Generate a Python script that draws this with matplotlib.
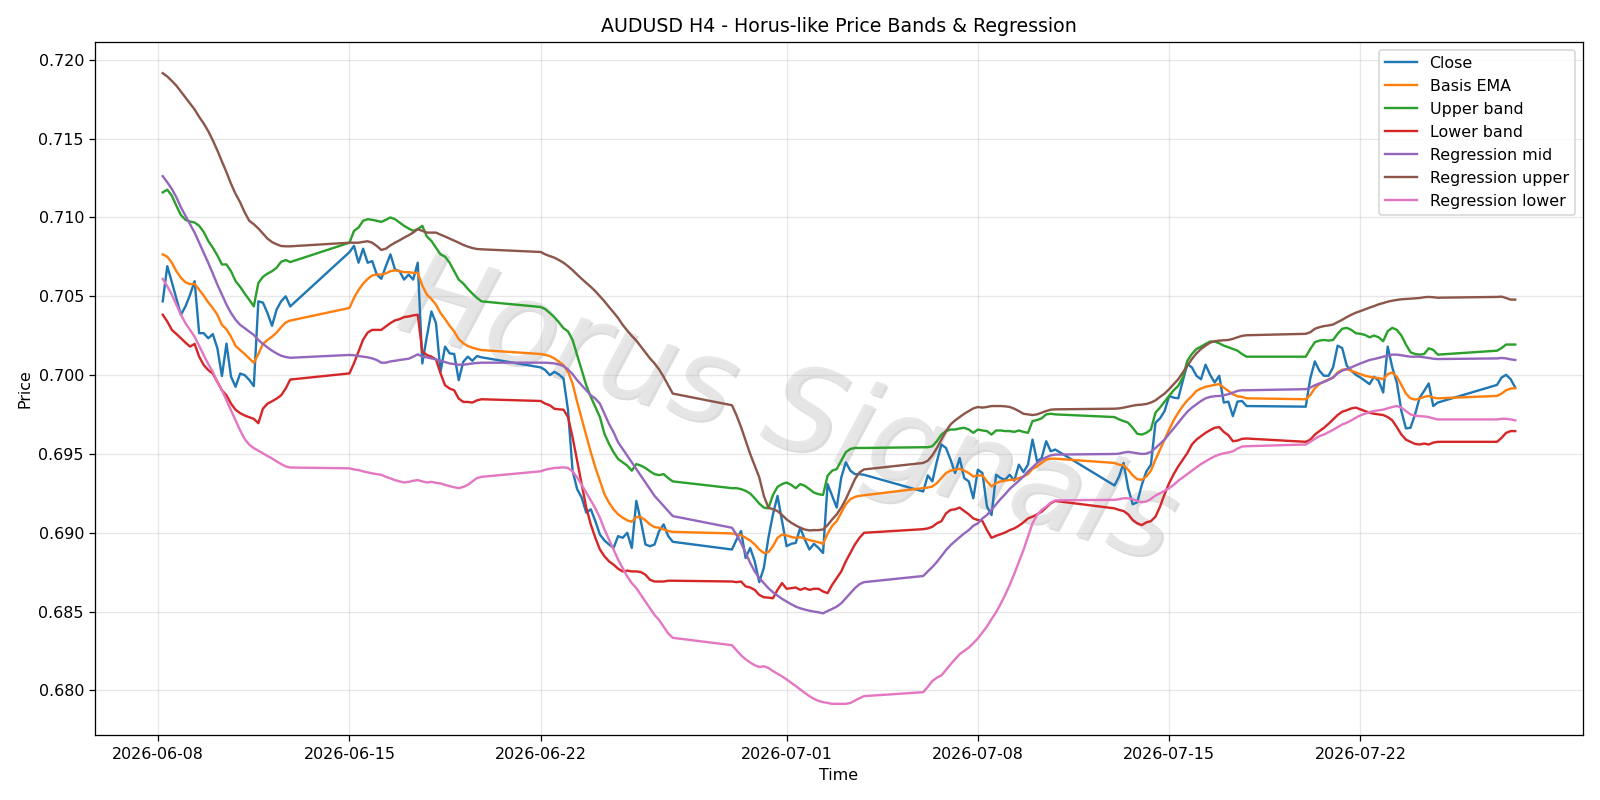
import numpy as np
import pandas as pd
import matplotlib
matplotlib.use("Agg")
import matplotlib.pyplot as plt
import matplotlib.patheffects as pe

# 4h bars, weekdays only (Mon 00:00 .. Fri 20:00)
bars = pd.date_range("2026-06-08 04:00", "2026-07-27 16:00", freq="4h")
bars = bars[bars.dayofweek < 5]

close = [
    0.70468, 0.70691, 0.70590, 0.70485, 0.70383, 0.70436, 0.70510, 0.70596, 0.70266, 0.70266,
    0.70234, 0.70260, 0.70170, 0.69994, 0.70200, 0.69990, 0.69926, 0.70010, 0.70000, 0.69970,
    0.69930, 0.70468, 0.70460, 0.70394, 0.70313, 0.70415, 0.70468, 0.70500, 0.70436,
    0.70780, 0.70820, 0.70713, 0.70802, 0.70713, 0.70723, 0.70638, 0.70611, 0.70691, 0.70766,
    0.70670, 0.70660, 0.70606, 0.70638, 0.70606, 0.70713, 0.70074, 0.70245, 0.70404, 0.70330,
    0.70021, 0.70181, 0.70138, 0.70134, 0.69968, 0.70085, 0.70117, 0.70091, 0.70121, 0.70113,
    0.70049, 0.70032, 0.70000, 0.70021, 0.70004, 0.69979, 0.69777, 0.69394, 0.69277, 0.69223,
    0.69128, 0.69149, 0.69074, 0.68989, 0.68951, 0.68926, 0.68904, 0.68979, 0.68968, 0.69000,
    0.68904, 0.69202, 0.69074, 0.68926, 0.68915, 0.68926, 0.69011, 0.69053, 0.68979, 0.68943,
    0.68894, 0.68957, 0.69011, 0.68840, 0.68904, 0.68819, 0.68687, 0.68777, 0.68968, 0.69117,
    0.69234, 0.69074, 0.68915, 0.68930, 0.68936, 0.69032, 0.68957, 0.68894, 0.68930, 0.68904,
    0.68872, 0.69309, 0.69234, 0.69160, 0.69351, 0.69447, 0.69394, 0.69372, 0.69372, 0.69368,
    0.69262, 0.69364, 0.69326, 0.69453, 0.69560, 0.69538, 0.69464, 0.69379, 0.69474, 0.69347,
    0.69326, 0.69219, 0.69400, 0.69379, 0.69166, 0.69113, 0.69368, 0.69347, 0.69336, 0.69368,
    0.69330, 0.69432, 0.69385, 0.69432, 0.69591, 0.69453, 0.69474, 0.69581, 0.69517, 0.69528,
    0.69300, 0.69357, 0.69443, 0.69283, 0.69181, 0.69194, 0.69304, 0.69389, 0.69432, 0.69698,
    0.69726, 0.69772, 0.69868, 0.69857, 0.69853, 0.69964, 0.70070, 0.70049, 0.69996, 0.69974,
    0.70066, 0.70002, 0.69953, 0.69996, 0.69826, 0.69832, 0.69740, 0.69832, 0.69836, 0.69804,
    0.69800, 0.69980, 0.70087, 0.70028, 0.69996, 0.69996, 0.70049, 0.70187, 0.70172, 0.70060,
    0.70028, 0.70002, 0.69985, 0.69964, 0.69943, 0.69990, 0.69964, 0.69890, 0.70181, 0.70049,
    0.69953, 0.69772, 0.69662, 0.69666, 0.69751, 0.69857, 0.69900, 0.69947, 0.69804, 0.69826,
    0.69938, 0.69985, 0.70002, 0.69974, 0.69921,
]

basis = [
    0.70766, 0.70751, 0.70713, 0.70659, 0.70617, 0.70589, 0.70577, 0.70579, 0.70542, 0.70504,
    0.70461, 0.70425, 0.70383, 0.70319, 0.70291, 0.70244, 0.70185, 0.70159, 0.70134, 0.70106,
    0.70078, 0.70134, 0.70198, 0.70223, 0.70244, 0.70270, 0.70304, 0.70334, 0.70346,
    0.70426, 0.70490, 0.70540, 0.70580, 0.70610, 0.70632, 0.70638, 0.70638, 0.70645, 0.70660,
    0.70664, 0.70660, 0.70653, 0.70653, 0.70649, 0.70649, 0.70568, 0.70511, 0.70483, 0.70447,
    0.70394, 0.70355, 0.70313, 0.70277, 0.70228, 0.70202, 0.70185, 0.70174, 0.70166, 0.70159,
    0.70134, 0.70128, 0.70121, 0.70106, 0.70085, 0.70064, 0.70021, 0.69947, 0.69830, 0.69723,
    0.69617, 0.69511, 0.69415, 0.69330, 0.69245, 0.69191, 0.69149, 0.69117, 0.69096, 0.69079,
    0.69070, 0.69100, 0.69100, 0.69079, 0.69053, 0.69036, 0.69032, 0.69021, 0.69011, 0.69006,
    0.68996, 0.68989, 0.68985, 0.68968, 0.68951, 0.68926, 0.68894, 0.68872, 0.68877, 0.68915,
    0.68968, 0.68989, 0.68983, 0.68974, 0.68968, 0.68972, 0.68964, 0.68953, 0.68947, 0.68940,
    0.68930, 0.68994, 0.69043, 0.69074, 0.69128, 0.69181, 0.69213, 0.69228, 0.69234, 0.69238,
    0.69283, 0.69287, 0.69294, 0.69315, 0.69347, 0.69379, 0.69394, 0.69400, 0.69406, 0.69394,
    0.69379, 0.69357, 0.69364, 0.69364, 0.69326, 0.69294, 0.69315, 0.69326, 0.69330, 0.69336,
    0.69336, 0.69347, 0.69357, 0.69372, 0.69406, 0.69421, 0.69443, 0.69464, 0.69470, 0.69470,
    0.69443, 0.69432, 0.69428, 0.69400, 0.69364, 0.69340, 0.69336, 0.69357, 0.69394, 0.69464,
    0.69528, 0.69591, 0.69655, 0.69713, 0.69762, 0.69804, 0.69840, 0.69868, 0.69900, 0.69915,
    0.69926, 0.69932, 0.69938, 0.69943, 0.69921, 0.69900, 0.69879, 0.69866, 0.69862, 0.69853,
    0.69847, 0.69874, 0.69917, 0.69943, 0.69960, 0.69972, 0.69985, 0.70017, 0.70034, 0.70038,
    0.70028, 0.70017, 0.70006, 0.69996, 0.69990, 0.69985, 0.69981, 0.69974, 0.70006, 0.70017,
    0.69990, 0.69938, 0.69883, 0.69853, 0.69845, 0.69851, 0.69862, 0.69868, 0.69857, 0.69853,
    0.69868, 0.69883, 0.69904, 0.69915, 0.69917,
]

upper = [
    0.71159, 0.71176, 0.71138, 0.71074, 0.71015, 0.70985, 0.70974, 0.70968, 0.70947, 0.70908,
    0.70851, 0.70808, 0.70759, 0.70702, 0.70702, 0.70659, 0.70596, 0.70560, 0.70517, 0.70478,
    0.70436, 0.70585, 0.70623, 0.70644, 0.70659, 0.70681, 0.70719, 0.70730, 0.70717,
    0.70840, 0.70915, 0.70936, 0.70979, 0.70989, 0.70985, 0.70979, 0.70972, 0.70985, 0.71000,
    0.70989, 0.70968, 0.70947, 0.70930, 0.70915, 0.70926, 0.70947, 0.70879, 0.70851, 0.70809,
    0.70766, 0.70751, 0.70713, 0.70660, 0.70606, 0.70581, 0.70547, 0.70517, 0.70490, 0.70468,
    0.70432, 0.70419, 0.70394, 0.70368, 0.70334, 0.70298, 0.70277, 0.70223, 0.70128, 0.70032,
    0.69936, 0.69862, 0.69798, 0.69734, 0.69628, 0.69564, 0.69511, 0.69468, 0.69447, 0.69426,
    0.69394, 0.69436, 0.69426, 0.69411, 0.69390, 0.69372, 0.69366, 0.69372, 0.69347, 0.69326,
    0.69283, 0.69283, 0.69277, 0.69266, 0.69249, 0.69219, 0.69185, 0.69160, 0.69155, 0.69240,
    0.69291, 0.69309, 0.69319, 0.69304, 0.69283, 0.69309, 0.69298, 0.69277, 0.69255, 0.69245,
    0.69240, 0.69362, 0.69394, 0.69404, 0.69457, 0.69511, 0.69532, 0.69538, 0.69538, 0.69538,
    0.69543, 0.69543, 0.69549, 0.69581, 0.69623, 0.69645, 0.69655, 0.69655, 0.69662, 0.69666,
    0.69655, 0.69634, 0.69655, 0.69649, 0.69645, 0.69623, 0.69649, 0.69649, 0.69645, 0.69645,
    0.69640, 0.69649, 0.69640, 0.69634, 0.69709, 0.69715, 0.69726, 0.69751, 0.69755, 0.69751,
    0.69734, 0.69719, 0.69709, 0.69698, 0.69666, 0.69628, 0.69623, 0.69634, 0.69655, 0.69762,
    0.69794, 0.69832, 0.69868, 0.69904, 0.69932, 0.69985, 0.70091, 0.70134, 0.70166, 0.70181,
    0.70198, 0.70213, 0.70213, 0.70202, 0.70187, 0.70177, 0.70166, 0.70155, 0.70134, 0.70117,
    0.70117, 0.70166, 0.70209, 0.70219, 0.70223, 0.70219, 0.70223, 0.70262, 0.70294, 0.70300,
    0.70287, 0.70266, 0.70262, 0.70255, 0.70240, 0.70251, 0.70240, 0.70215, 0.70279, 0.70300,
    0.70287, 0.70251, 0.70194, 0.70145, 0.70134, 0.70130, 0.70134, 0.70170, 0.70160, 0.70130,
    0.70155, 0.70172, 0.70194, 0.70194, 0.70194,
]

lower = [
    0.70383, 0.70340, 0.70287, 0.70261, 0.70234, 0.70206, 0.70181, 0.70198, 0.70117, 0.70064,
    0.70032, 0.70010, 0.69957, 0.69904, 0.69872, 0.69819, 0.69780, 0.69759, 0.69744, 0.69733,
    0.69723, 0.69695, 0.69787, 0.69819, 0.69834, 0.69851, 0.69872, 0.69915, 0.69972,
    0.70011, 0.70075, 0.70150, 0.70225, 0.70270, 0.70287, 0.70287, 0.70287, 0.70309, 0.70330,
    0.70347, 0.70355, 0.70368, 0.70372, 0.70379, 0.70383, 0.70149, 0.70128, 0.70117, 0.70100,
    0.70011, 0.69936, 0.69915, 0.69904, 0.69851, 0.69830, 0.69830, 0.69826, 0.69840, 0.69847,
    0.69836, 0.69819, 0.69809, 0.69787, 0.69783, 0.69781, 0.69734, 0.69606, 0.69457, 0.69309,
    0.69160, 0.69053, 0.68968, 0.68894, 0.68851, 0.68819, 0.68798, 0.68772, 0.68755, 0.68760,
    0.68755, 0.68755, 0.68751, 0.68734, 0.68702, 0.68691, 0.68691, 0.68691, 0.68696, 0.68696,
    0.68691, 0.68687, 0.68691, 0.68660, 0.68653, 0.68638, 0.68606, 0.68591, 0.68589, 0.68585,
    0.68638, 0.68681, 0.68645, 0.68649, 0.68653, 0.68638, 0.68649, 0.68638, 0.68645, 0.68645,
    0.68628, 0.68617, 0.68670, 0.68713, 0.68755, 0.68819, 0.68872, 0.68926, 0.68968, 0.69000,
    0.69023, 0.69028, 0.69038, 0.69060, 0.69074, 0.69123, 0.69145, 0.69149, 0.69160, 0.69138,
    0.69117, 0.69091, 0.69081, 0.69074, 0.69017, 0.68968, 0.68981, 0.68991, 0.69002, 0.69017,
    0.69028, 0.69045, 0.69066, 0.69091, 0.69102, 0.69117, 0.69134, 0.69160, 0.69187, 0.69202,
    0.69155, 0.69145, 0.69138, 0.69117, 0.69081, 0.69060, 0.69049, 0.69066, 0.69074, 0.69102,
    0.69166, 0.69245, 0.69315, 0.69372, 0.69421, 0.69464, 0.69506, 0.69560, 0.69591, 0.69613,
    0.69634, 0.69651, 0.69666, 0.69670, 0.69640, 0.69619, 0.69581, 0.69585, 0.69596, 0.69598,
    0.69577, 0.69591, 0.69623, 0.69645, 0.69666, 0.69691, 0.69719, 0.69747, 0.69768, 0.69777,
    0.69789, 0.69794, 0.69783, 0.69772, 0.69762, 0.69755, 0.69751, 0.69747, 0.69734, 0.69713,
    0.69670, 0.69623, 0.69591, 0.69577, 0.69564, 0.69560, 0.69566, 0.69560, 0.69572, 0.69577,
    0.69577, 0.69602, 0.69634, 0.69645, 0.69645,
]

reg_mid = [
    0.71262, 0.71223, 0.71181, 0.71128, 0.71064, 0.71010, 0.70957, 0.70904, 0.70840, 0.70776,
    0.70712, 0.70644, 0.70574, 0.70510, 0.70447, 0.70394, 0.70351, 0.70319, 0.70298, 0.70276,
    0.70255, 0.70223, 0.70198, 0.70176, 0.70155, 0.70138, 0.70123, 0.70115, 0.70110,
    0.70128, 0.70126, 0.70121, 0.70117, 0.70113, 0.70106, 0.70096, 0.70079, 0.70079, 0.70087,
    0.70091, 0.70096, 0.70100, 0.70104, 0.70117, 0.70132, 0.70117, 0.70113, 0.70106, 0.70100,
    0.70091, 0.70083, 0.70074, 0.70070, 0.70066, 0.70066, 0.70070, 0.70074, 0.70077, 0.70079,
    0.70079, 0.70079, 0.70077, 0.70074, 0.70068, 0.70057, 0.70036, 0.70006, 0.69968, 0.69936,
    0.69904, 0.69872, 0.69851, 0.69819, 0.69755, 0.69691, 0.69638, 0.69574, 0.69532, 0.69489,
    0.69447, 0.69404, 0.69362, 0.69319, 0.69277, 0.69234, 0.69202, 0.69170, 0.69138, 0.69106,
    0.69032, 0.68989, 0.68936, 0.68872, 0.68809, 0.68755, 0.68713, 0.68681, 0.68649, 0.68623,
    0.68602, 0.68581, 0.68564, 0.68547, 0.68532, 0.68521, 0.68513, 0.68506, 0.68500, 0.68496,
    0.68489, 0.68504, 0.68517, 0.68532, 0.68553, 0.68585, 0.68617, 0.68649, 0.68674, 0.68687,
    0.68726, 0.68755, 0.68783, 0.68815, 0.68853, 0.68890, 0.68921, 0.68947, 0.68972, 0.68996,
    0.69017, 0.69045, 0.69060, 0.69091, 0.69113, 0.69145, 0.69181, 0.69215, 0.69245, 0.69279,
    0.69304, 0.69330, 0.69357, 0.69389, 0.69415, 0.69443, 0.69464, 0.69479, 0.69491, 0.69496,
    0.69500, 0.69502, 0.69509, 0.69513, 0.69509, 0.69504, 0.69500, 0.69502, 0.69513, 0.69538,
    0.69564, 0.69591, 0.69628, 0.69662, 0.69698, 0.69734, 0.69768, 0.69794, 0.69815, 0.69836,
    0.69853, 0.69862, 0.69866, 0.69868, 0.69872, 0.69879, 0.69889, 0.69900, 0.69904, 0.69904,
    0.69911, 0.69921, 0.69936, 0.69947, 0.69957, 0.69970, 0.69985, 0.70011, 0.70028, 0.70038,
    0.70049, 0.70062, 0.70074, 0.70085, 0.70096, 0.70102, 0.70109, 0.70117, 0.70123, 0.70130,
    0.70130, 0.70126, 0.70121, 0.70117, 0.70117, 0.70117, 0.70113, 0.70109, 0.70104, 0.70102,
    0.70106, 0.70109, 0.70106, 0.70100, 0.70096,
]

reg_upper = [
    0.71915, 0.71894, 0.71866, 0.71836, 0.71798, 0.71760, 0.71723, 0.71685, 0.71638, 0.71596,
    0.71547, 0.71489, 0.71425, 0.71355, 0.71287, 0.71213, 0.71149, 0.71096, 0.71032, 0.70979,
    0.70957, 0.70930, 0.70898, 0.70866, 0.70844, 0.70830, 0.70819, 0.70817, 0.70817,
    0.70840, 0.70840, 0.70840, 0.70845, 0.70849, 0.70840, 0.70819, 0.70794, 0.70802, 0.70823,
    0.70840, 0.70855, 0.70872, 0.70887, 0.70904, 0.70926, 0.70915, 0.70904, 0.70904, 0.70904,
    0.70891, 0.70879, 0.70866, 0.70853, 0.70840, 0.70826, 0.70815, 0.70806, 0.70800, 0.70798,
    0.70781, 0.70766, 0.70755, 0.70745, 0.70730, 0.70713, 0.70691, 0.70666, 0.70638, 0.70611,
    0.70585, 0.70560, 0.70532, 0.70500, 0.70468, 0.70432, 0.70398, 0.70362, 0.70319, 0.70283,
    0.70249, 0.70219, 0.70181, 0.70143, 0.70106, 0.70074, 0.70036, 0.69989, 0.69936, 0.69883,
    0.69809, 0.69745, 0.69670, 0.69585, 0.69500, 0.69426, 0.69351, 0.69234, 0.69160, 0.69149,
    0.69138, 0.69113, 0.69085, 0.69064, 0.69047, 0.69032, 0.69021, 0.69015, 0.69017, 0.69017,
    0.69021, 0.69049, 0.69085, 0.69117, 0.69160, 0.69213, 0.69277, 0.69340, 0.69383, 0.69402,
    0.69443, 0.69457, 0.69491, 0.69538, 0.69591, 0.69645, 0.69687, 0.69713, 0.69734, 0.69755,
    0.69772, 0.69789, 0.69798, 0.69794, 0.69798, 0.69804, 0.69804, 0.69804, 0.69802, 0.69798,
    0.69787, 0.69772, 0.69755, 0.69751, 0.69747, 0.69751, 0.69762, 0.69772, 0.69781, 0.69783,
    0.69787, 0.69789, 0.69794, 0.69800, 0.69806, 0.69811, 0.69813, 0.69817, 0.69826, 0.69840,
    0.69862, 0.69883, 0.69911, 0.69943, 0.69974, 0.70017, 0.70060, 0.70102, 0.70138, 0.70166,
    0.70187, 0.70206, 0.70215, 0.70219, 0.70221, 0.70223, 0.70230, 0.70240, 0.70249, 0.70253,
    0.70262, 0.70272, 0.70294, 0.70304, 0.70311, 0.70315, 0.70321, 0.70336, 0.70351, 0.70368,
    0.70383, 0.70396, 0.70406, 0.70417, 0.70428, 0.70438, 0.70449, 0.70457, 0.70466, 0.70472,
    0.70477, 0.70481, 0.70483, 0.70485, 0.70487, 0.70489, 0.70494, 0.70496, 0.70494, 0.70491,
    0.70496, 0.70498, 0.70489, 0.70479, 0.70479,
]

reg_lower = [
    0.70610, 0.70564, 0.70510, 0.70447, 0.70383, 0.70329, 0.70287, 0.70244, 0.70185, 0.70127,
    0.70070, 0.70021, 0.69957, 0.69904, 0.69840, 0.69776, 0.69712, 0.69649, 0.69595, 0.69559,
    0.69537, 0.69521, 0.69504, 0.69487, 0.69472, 0.69453, 0.69436, 0.69421, 0.69414,
    0.69409, 0.69402, 0.69398, 0.69390, 0.69383, 0.69377, 0.69372, 0.69368, 0.69355, 0.69345,
    0.69334, 0.69326, 0.69319, 0.69323, 0.69330, 0.69334, 0.69326, 0.69319, 0.69323, 0.69317,
    0.69313, 0.69304, 0.69296, 0.69289, 0.69283, 0.69291, 0.69304, 0.69326, 0.69347, 0.69355,
    0.69390, 0.69400, 0.69406, 0.69411, 0.69413, 0.69415, 0.69411, 0.69390, 0.69351, 0.69304,
    0.69255, 0.69206, 0.69155, 0.69096, 0.69021, 0.68957, 0.68894, 0.68830, 0.68777, 0.68723,
    0.68681, 0.68649, 0.68606, 0.68564, 0.68521, 0.68479, 0.68447, 0.68404, 0.68362, 0.68334,
    0.68287, 0.68255, 0.68223, 0.68198, 0.68177, 0.68160, 0.68149, 0.68153, 0.68143, 0.68123,
    0.68106, 0.68089, 0.68070, 0.68049, 0.68028, 0.68006, 0.67985, 0.67964, 0.67947, 0.67934,
    0.67926, 0.67921, 0.67915, 0.67915, 0.67915, 0.67915, 0.67921, 0.67936, 0.67951, 0.67964,
    0.67989, 0.68023, 0.68060, 0.68081, 0.68096, 0.68130, 0.68166, 0.68198, 0.68230, 0.68251,
    0.68272, 0.68300, 0.68330, 0.68368, 0.68406, 0.68453, 0.68496, 0.68549, 0.68606, 0.68670,
    0.68740, 0.68815, 0.68890, 0.68974, 0.69060, 0.69113, 0.69145, 0.69166, 0.69191, 0.69206,
    0.69209, 0.69213, 0.69219, 0.69219, 0.69213, 0.69202, 0.69194, 0.69198, 0.69215, 0.69236,
    0.69251, 0.69266, 0.69283, 0.69304, 0.69330, 0.69351, 0.69372, 0.69394, 0.69415, 0.69436,
    0.69453, 0.69470, 0.69485, 0.69496, 0.69504, 0.69509, 0.69517, 0.69534, 0.69547, 0.69549,
    0.69560, 0.69577, 0.69596, 0.69613, 0.69623, 0.69638, 0.69653, 0.69670, 0.69687, 0.69698,
    0.69713, 0.69730, 0.69745, 0.69755, 0.69766, 0.69772, 0.69777, 0.69781, 0.69790, 0.69798,
    0.69804, 0.69794, 0.69772, 0.69751, 0.69743, 0.69740, 0.69738, 0.69734, 0.69726, 0.69719,
    0.69719, 0.69723, 0.69723, 0.69719, 0.69713,
]

series = [
    ("Close", close),
    ("Basis EMA", basis),
    ("Upper band", upper),
    ("Lower band", lower),
    ("Regression mid", reg_mid),
    ("Regression upper", reg_upper),
    ("Regression lower", reg_lower),
]

fig, ax = plt.subplots(figsize=(14, 7), dpi=1600 / 14)
for name, vals in series:
    ax.plot(bars, vals, label=name, linewidth=1.5)

ax.set_title("AUDUSD H4 - Horus-like Price Bands & Regression")
ax.set_xlabel("Time")
ax.set_ylabel("Price")
ax.grid(True, alpha=0.3)
ax.legend(loc="upper right")

# watermark, drawn behind the lines
ax.text(0.465, 0.465, "Horus Signals", transform=ax.transAxes, fontsize=74,
        color="#e6e6e6", alpha=0.7, rotation=-17, ha="center", va="center",
        style="italic", zorder=1,
        path_effects=[pe.withSimplePatchShadow(offset=(1.5, -1.5), shadow_rgbFace="#8c8c8c", alpha=0.3),
                      pe.Normal()])

fig.tight_layout()
fig.savefig("out.png", dpi=1600 / 14)
